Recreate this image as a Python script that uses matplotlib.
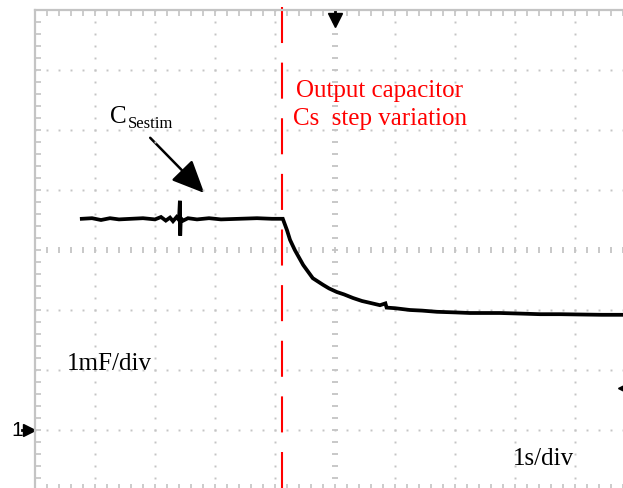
###############################################################################
### Oscilloscope capture: estimated output capacitance after a Cs step
###############################################################################

#------------------------------------------------------------------------------
### Import packages
import matplotlib
matplotlib.use('Agg')
import matplotlib.pyplot as plt
import numpy as np
from matplotlib.patches import FancyArrowPatch


#------------------------------------------------------------------------------
### Data (1 s/div, 1 mF/div, ground marker at 0 mF)

# Time of each trace sample (s)
time_s = [0.78, 0.95, 1.10, 1.25, 1.40, 1.60, 1.80, 2.00, 2.10, 2.18,
          2.25, 2.30, 2.36, 2.40, 2.415, 2.42, 2.43, 2.47, 2.55, 2.70,
          2.90, 3.10, 3.40, 3.70, 3.95, 4.13,
          4.20, 4.25, 4.33, 4.47, 4.63, 4.80, 4.90, 5.03, 5.15, 5.30,
          5.45, 5.58, 5.75, 5.84, 5.86, 6.00, 6.25, 6.45, 6.70, 7.00,
          7.25, 7.50, 7.75, 8.10, 8.42, 8.75, 9.08, 9.45, 9.80, 10.0]

# Estimated capacitance C_Sestim (mF)
cs_estim = [3.52, 3.53, 3.50, 3.53, 3.51, 3.52, 3.53, 3.51, 3.55, 3.49,
            3.54, 3.48, 3.55, 3.50, 3.82, 3.24, 3.53, 3.49, 3.53, 3.51,
            3.53, 3.51, 3.52, 3.53, 3.52, 3.52,
            3.33, 3.17, 3.00, 2.75, 2.53, 2.42, 2.36, 2.30, 2.26, 2.20,
            2.15, 2.12, 2.08, 2.11, 2.04, 2.03, 2.00, 1.99, 1.97, 1.96,
            1.95, 1.95, 1.95, 1.94, 1.93, 1.93, 1.925, 1.92, 1.92, 1.915]

# Instant of the capacitor step (s)
step_time = 4.117

# Level of the channel 2 marker on the right edge (mF)
ch2_level = 0.70


#------------------------------------------------------------------------------
### Set variables

SCREEN_T = (0, 10)
SCREEN_C = (-1, 7)
GRID_COL = '#c4c4c4'
RED = '#ff0000'
SERIF = ['Liberation Serif', 'DejaVu Serif']


#------------------------------------------------------------------------------
### Figure

fig = plt.figure(figsize=(6.23, 4.88), dpi=100)
ax = fig.add_axes([35/623, 1 - 490/488, 600/623, 480/488])
ax.set_xlim(*SCREEN_T)
ax.set_ylim(*SCREEN_C)

# Screen border with minor ticks pointing inwards
for side in ['left', 'top', 'right', 'bottom']:
	ax.spines[side].set_color(GRID_COL)
	ax.spines[side].set_linewidth(1.6)
ax.set_xticks(np.arange(0, 10.01, 1))
ax.set_yticks(np.arange(-1, 7.01, 1))
ax.set_xticks(np.arange(0, 10.01, 0.2), minor=True)
ax.set_yticks(np.arange(-1, 7.01, 0.2), minor=True)
ax.tick_params(which='both', direction='in', length=4, width=1.2,
	color=GRID_COL, top=True, right=True, left=True, bottom=True,
	labelleft=False, labelbottom=False)

# Dotted graticule
minor_t = np.arange(0, 10.01, 0.2)
minor_c = np.arange(-1, 7.01, 0.2)
for t in range(1, 10):
	if t == 5:
		continue
	ax.plot(np.full_like(minor_c, t), minor_c, ls='none', marker='s',
		ms=1.4, mew=0, color=GRID_COL)
for c in range(0, 7):
	if c == 3:
		continue
	ax.plot(minor_t, np.full_like(minor_t, c), ls='none', marker='s',
		ms=1.4, mew=0, color=GRID_COL)

# Centre axes carry short tick marks
ax.plot(np.full_like(minor_c, 5), minor_c, ls='none', marker='_',
	ms=5, mew=1.3, color=GRID_COL)
ax.plot(minor_t, np.full_like(minor_t, 3), ls='none', marker='|',
	ms=5, mew=1.3, color=GRID_COL)

# Measured trace
ax.plot(time_s, cs_estim, color='black', lw=2.7, solid_joinstyle='miter')

# Red dashed line at the step instant
ax.plot([step_time, step_time], [7.05, -1.05], color=RED, lw=1.5,
	dashes=(17.3, 9.4), clip_on=False)

# Screen markers: trigger, ground of channel 1 and channel 2 level
ax.plot([5, 5], [7.0, 6.82], color='black', lw=2, clip_on=False)
ax.plot(5, 6.84, marker='v', ms=10, color='black', clip_on=False)
ax.plot(-0.1, 0, marker='>', ms=8, color='black', clip_on=False)
ax.plot([-0.22, -0.1], [0, 0], color='black', lw=2, clip_on=False)
ax.text(-0.40, 0, '1', family='Liberation Sans', fontsize=15,
	va='center', ha='left', clip_on=False)
ax.plot(9.82, ch2_level, marker='<', ms=9, color='black', clip_on=False)

# Annotations
ax.text(4.35, 5.55, 'Output capacitor', family=SERIF, fontsize=18,
	color=RED, va='baseline')
ax.text(4.30, 5.08, 'Cs  step variation', family=SERIF, fontsize=18,
	color=RED, va='baseline')
ax.text(0.53, 1.0, '1mF/div', family=SERIF, fontsize=18, va='baseline')
ax.text(7.97, -0.58, '1s/div', family=SERIF, fontsize=18, va='baseline')
ax.text(1.25, 5.12, 'C', family=SERIF, fontsize=18, va='baseline')
ax.text(1.55, 5.03, 'Sestim', family=SERIF, fontsize=12, va='baseline')

arrow = FancyArrowPatch((1.92, 4.87), (2.82, 3.95),
	arrowstyle='-|>,head_length=1.0,head_width=0.45', mutation_scale=20,
	lw=1.8, color='black', shrinkA=0, shrinkB=0)
ax.add_patch(arrow)

# Save the plot to file
fig.savefig('out.png', dpi=100)
plt.close(fig)
